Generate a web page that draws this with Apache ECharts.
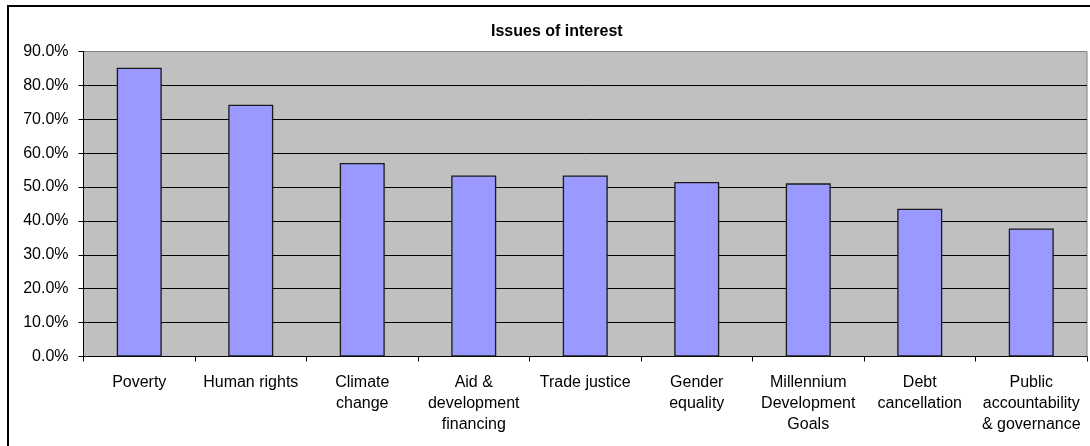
<!DOCTYPE html>
<html>
<head>
<meta charset="utf-8">
<script src="https://cdn.jsdelivr.net/npm/echarts@6/dist/echarts.min.js"></script>
<style>
  html, body { margin: 0; padding: 0; background: #fff; }
  #chart { width: 1090px; height: 446px; }
</style>
</head>
<body>
<div id="chart"></div>
<script>
// Share of respondents interested in each issue (percent)
const categories = [
  'Poverty',
  'Human rights',
  'Climate\nchange',
  'Aid &\ndevelopment\nfinancing',
  'Trade justice',
  'Gender\nequality',
  'Millennium\nDevelopment\nGoals',
  'Debt\ncancellation',
  'Public\naccountability\n& governance'
];
const shares = [85.2, 74.3, 57.1, 53.4, 53.4, 51.5, 51.1, 43.6, 37.8];
const chartTitle = 'Issues of interest';

const font = 'Arial, "Liberation Sans", sans-serif';
const chart = echarts.init(document.getElementById('chart'), null, { renderer: 'canvas' });

chart.setOption({
  animation: false,
  backgroundColor: '#ffffff',
  title: {
    text: chartTitle,
    left: 486,
    top: 19,
    textStyle: { fontFamily: font, fontSize: 16, fontWeight: 'bold', color: '#000' }
  },
  graphic: [{
    type: 'rect',
    shape: { x: 8, y: 6, width: 1090, height: 460 },
    style: { fill: null, stroke: '#000', lineWidth: 2 },
    silent: true,
    z: 100
  }],
  grid: {
    left: 83.5,
    right: 3,
    top: 51.5,
    bottom: 89.5,
    show: true,
    backgroundColor: '#C0C0C0',
    borderColor: '#808080',
    borderWidth: 1
  },
  xAxis: {
    type: 'category',
    data: categories,
    boundaryGap: true,
    axisLine: { lineStyle: { color: '#000', width: 1 } },
    axisTick: { show: true, length: 5, inside: false, lineStyle: { color: '#000' } },
    axisLabel: {
      interval: 0,
      margin: 16,
      fontFamily: font,
      fontSize: 16,
      color: '#000',
      lineHeight: 21,
      align: 'center'
    },
    splitLine: { show: false }
  },
  yAxis: {
    type: 'value',
    min: 0,
    max: 90,
    interval: 10,
    axisLine: { show: true, lineStyle: { color: '#000', width: 1 } },
    axisTick: { show: true, length: 5, inside: false, lineStyle: { color: '#000' } },
    axisLabel: {
      margin: 15,
      fontFamily: font,
      fontSize: 16,
      color: '#000',
      formatter: v => v.toFixed(1) + '%'
    },
    splitLine: {
      show: true,
      showMinLine: false,
      showMaxLine: false,
      lineStyle: { color: '#000', width: 1 }
    }
  },
  series: [{
    type: 'bar',
    data: shares,
    barWidth: 45,
    itemStyle: {
      color: '#9999FF',
      borderColor: '#1a1a1a',
      borderWidth: 1.3
    },
    z: 3
  }]
});
</script>
</body>
</html>
